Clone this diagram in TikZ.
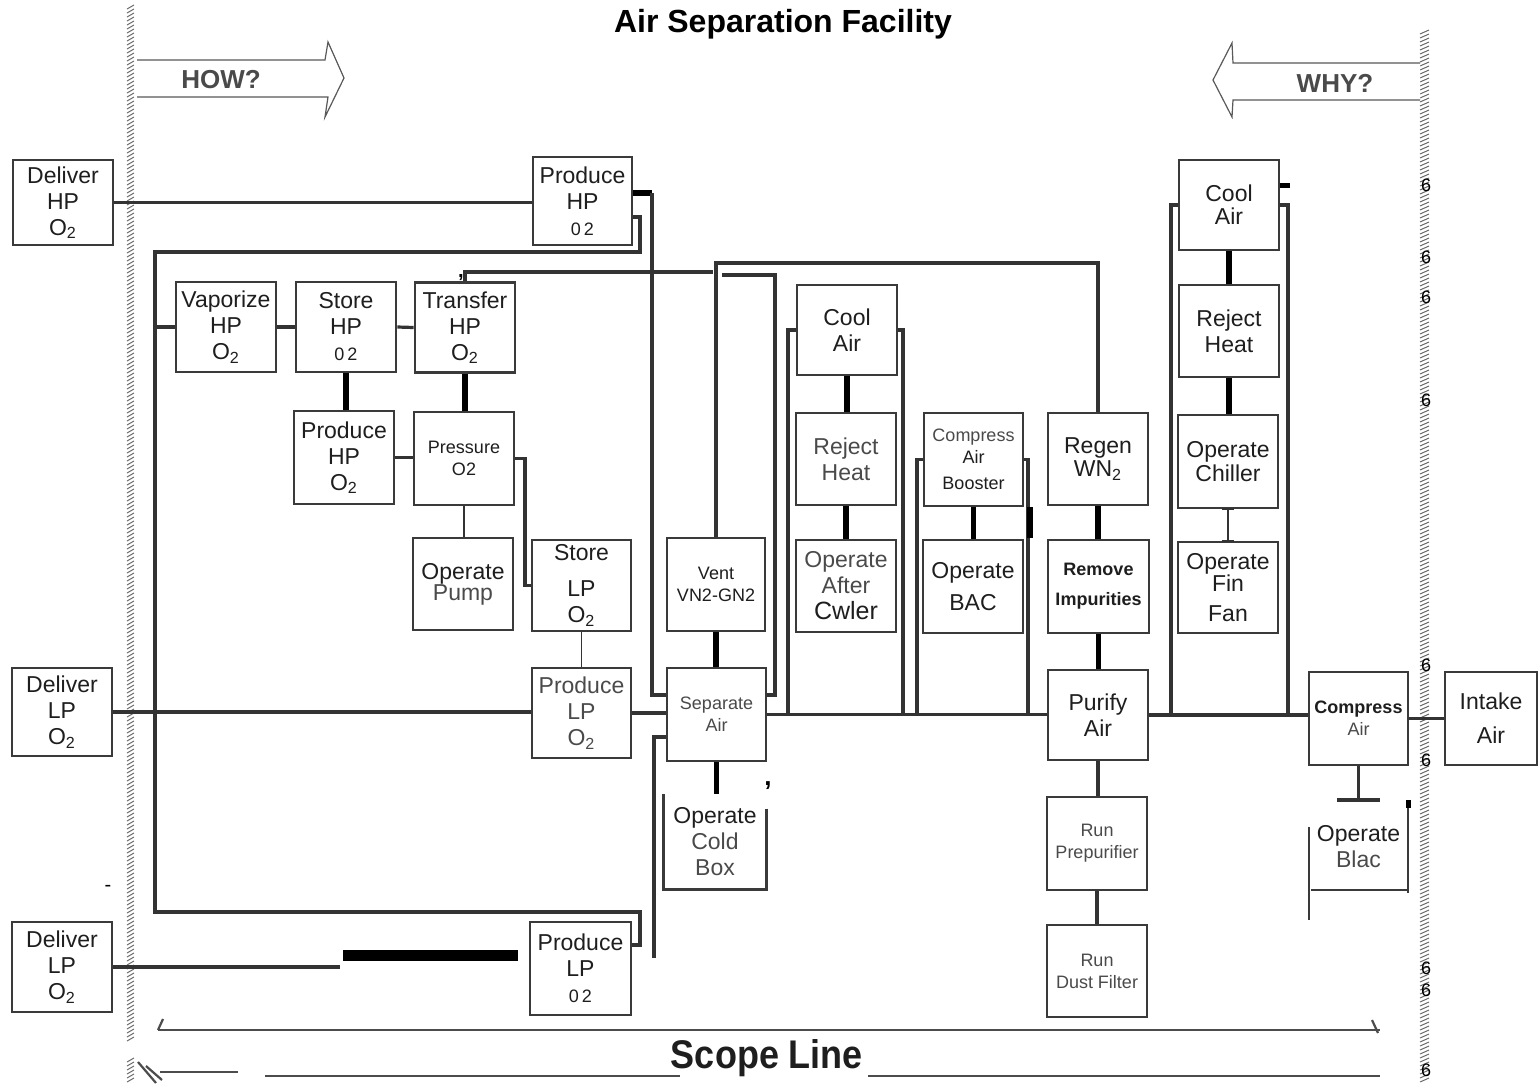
\documentclass[tikz,border=0pt]{standalone}
\usepackage{fontspec}
\setmainfont{Liberation Sans}
\usetikzlibrary{calc}
\definecolor{boxc}{HTML}{3A3A3A}
\definecolor{linec}{HTML}{333333}
\definecolor{txt}{HTML}{1E1E1E}
\definecolor{txtg}{HTML}{4A4A4A}
\definecolor{hatchc}{HTML}{6A6A6A}
\newcommand\Ot{O\textsubscript{2}}
\newcommand\sm{\fontsize{9}{11}\selectfont}
\newcommand\zt{{\fontsize{9}{11}\selectfont 0\,2}}
\begin{document}
\begin{tikzpicture}[x=0.5pt,y=-0.5pt,
 box/.style={draw=boxc, line width=1.3pt, fill=white, align=center, inner sep=1pt, minimum width=50pt, minimum height=45pt, font=\fontsize{11.5}{13}\selectfont, text=txt},
 conn/.style={draw=linec, line width=1.6pt},
 heavy/.style={draw=black, line width=2.6pt},
 lite/.style={draw=linec, line width=0.9pt},
 boxline/.style={draw=boxc, line width=1.3pt},
 hatch/.style={draw=hatchc, line width=0.5pt},
 bigarrow/.style={draw=gray!70!black, line width=0.6pt},
 scopeln/.style={draw=gray!60!black, line width=1.1pt},
]
\fill[white] (0,0) rectangle (1538,1083);
\useasboundingbox (0,0) rectangle (1538,1083);

% scope hatches
\foreach \y in {5,9,...,1037} \draw[hatch] (127,\y+4) -- (134,\y);
\foreach \y in {1058,1062,...,1080} \draw[hatch] (127,\y+4) -- (134,\y);
\foreach \y in {30,34,...,1080} \draw[hatch] (1420,\y+4) -- (1429,\y);

% title
\node[font=\bfseries\fontsize{16}{16}\selectfont] (title) at (783,24) {Air Separation Facility};

% HOW / WHY arrows
\draw[bigarrow, fill=white] (137,60) -- (325,60) -- (328,42) -- (344,78) -- (325,117) -- (328,97) -- (137,97);
\node[font=\bfseries\fontsize{13}{13}\selectfont, text=txtg] (how) at (221,80) {HOW?};
\draw[bigarrow, fill=white] (1420,63) -- (1233,63) -- (1232,43) -- (1213,80) -- (1232,117) -- (1233,100) -- (1420,100);
\node[font=\bfseries\fontsize{13}{13}\selectfont, text=txtg] (why) at (1335,83) {WHY?};

% boxes
\node[box, minimum height=42.5pt] (dhp) at (63,202.5) {Deliver\\HP\\\Ot};
\node[box, minimum height=44pt] (dlp1) at (62,712) {Deliver\\LP\\\Ot};
\node[box] (dlp2) at (62,967) {Deliver\\LP\\\Ot};
\node[box, minimum width=49.5pt, minimum height=44pt] (php1) at (582.5,201) {Produce\\HP\\\zt};
\node[box] (vap) at (226,327) {Vaporize\\HP\\\Ot};
\node[box] (shp) at (346,327) {Store\\HP\\\zt};
\node[box] (thp) at (465,327.5) {Transfer\\HP\\\Ot};
\node[box, minimum height=46.5pt] (php2) at (344,457.5) {Produce\\HP\\\Ot};
\node[box, minimum height=46.5pt, font=\sm] (pre) at (464,458.5) {Pressure\\O2};
\node[box, minimum height=46pt, font=\fontsize{11.5}{10.5}\selectfont] (opp) at (463,584) {Operate\\\textcolor{txtg}{Pump}};
\node[box, minimum width=49.5pt, minimum height=45.5pt] (slp) at (581.5,585.5) {Store\\[5pt]LP\\\Ot};
\node[box, minimum width=49.5pt, text=txtg] (plp1) at (581.5,713) {Produce\\LP\\\Ot};
\node[box, minimum width=50.5pt, minimum height=46.5pt] (plp2) at (580.5,968.5) {Produce\\LP\\\zt};
\node[box, minimum width=49pt, minimum height=46.5pt, font=\sm] (vent) at (716,584.5) {Vent\\VN2-GN2};
\node[box, minimum width=49.5pt, minimum height=46.5pt, font=\sm, text=txtg] (sep) at (716.5,714.5) {Separate\\Air};
\node[box, draw=none, fill=none, minimum height=46.5pt] (ocb) at (715,841.5) {Operate\\\textcolor{txtg}{Cold}\\\textcolor{txtg}{Box}};
\node[box] (ca1) at (847,330) {Cool\\Air};
\node[box, minimum height=46pt, text=txtg] (rh1) at (846,459) {Reject\\Heat};
\node[box, minimum height=46pt] (oac) at (846,586) {\textcolor{txtg}{Operate}\\\textcolor{txtg}{After}\\{\fontsize{12.5}{13}\selectfont Cwler}};
\node[box, minimum width=49.5pt, minimum height=46.5pt, font=\sm] (cab) at (973.5,459.5) {\textcolor{txtg}{Compress}\\Air\\[2pt]Booster};
\node[box, minimum height=46.5pt] (obac) at (973,586.5) {Operate\\[3pt]BAC};
\node[box, minimum height=46pt, font=\fontsize{11.5}{9.5}\selectfont] (rgn) at (1098,459) {Regen\\WN\textsubscript{2}};
\node[box, minimum width=50.5pt, minimum height=46.5pt, font=\sm\bfseries] (rim) at (1098.5,586.5) {Remove\\[4pt]Impurities};
\node[box] (pur) at (1098,715) {Purify\\Air};
\node[box, minimum height=46.5pt, font=\sm, text=txtg] (rpp) at (1097,843.5) {Run\\Prepurifier};
\node[box, minimum height=46pt, font=\sm, text=txtg] (rdf) at (1097,971) {Run\\Dust Filter};
\node[box, font=\fontsize{11.5}{11.5}\selectfont] (ca2) at (1229,205) {Cool\\Air};
\node[box, minimum height=46pt] (rh2) at (1229,331) {Reject\\Heat};
\node[box, minimum height=46.5pt, font=\fontsize{11.5}{10}\selectfont] (och) at (1228,461.5) {Operate\\Chiller};
\node[box, minimum height=45.5pt, font=\fontsize{11.5}{11}\selectfont] (off) at (1228,587.5) {Operate\\Fin\\[4pt]Fan};
\node[box, minimum width=49.5pt, minimum height=46.5pt, font=\sm] (cmp) at (1358.5,718.5) {\textbf{Compress}\\\textcolor{txtg}{Air}};
\node[box, draw=none, fill=none, minimum height=46.5pt] (obl) at (1358.5,846.5) {Operate\\\textcolor{txtg}{Blac}};
\node[box, minimum width=46pt, minimum height=46.5pt] (int) at (1491,718.5) {Intake\\[4pt]Air};

% partial boxes
\draw[boxline] ($(ocb.north east)+(0,15)$) -- (ocb.south east) -- (ocb.south west) -- (ocb.north west);
\draw[boxline] (1309,827) -- (1309,920);
\draw[boxline] (1408,800) -- (1408,893);
\draw[boxline] (1311,890) -- (1408,890);
\fill (1406,800) rectangle (1411,808);

% connectors: main line
\draw[conn] (dlp1.east) -- (dlp1.east -| plp1.west);
\draw[conn] (plp1.east) -- (plp1.east -| sep.west);
\draw[conn] (sep.east) -- (sep.east -| pur.west);
\draw[conn] (pur.east) -- (pur.east -| cmp.west);
\draw[conn] (cmp.east) -- (cmp.east -| int.west);
\draw[conn] (dhp.east) -- (dhp.east -| php1.west);
\coordinate (lb) at (340,967);
\draw[conn] (dlp2.east) -- (lb);
\fill (343,950) rectangle (518,961);

% big AND bracket
\coordinate (b1) at (640,217);
\coordinate (b2) at (640,945);
\draw[conn] (php1.east |- b1) -- (b1) -- (640,252) -- (155,252) -- (155,912) -- (640,912) -- (b2) -- (b2 -| plp2.east);
\coordinate (vl) at (155,327);
\draw[conn] (vl) -- (vap.west);
\draw[conn] (vap.east) -- (shp.west);
\draw[conn] (shp.east) -- (thp.west);
\draw[heavy] (shp.south) -- (shp.south |- php2.north);
\draw[heavy] (thp.south) -- (thp.south |- pre.north);
\draw[conn] (php2.east) -- (php2.east -| pre.west);
\draw[lite] (pre.south) -- (pre.south |- opp.north);
\coordinate (p1) at (525,458.5);
\draw[conn] (pre.east) -- (p1) -- (p1 |- slp.west) -- (slp.west);
\draw[lite] (slp.south) -- (slp.south |- plp1.north);

% upper connectors to separate air
\coordinate (d1) at (713,272);
\draw[conn] (thp.north) -- (thp.north |- d1) -- (d1);
\coordinate (d2) at (716,263);
\draw[conn] (vent.north) -- (d2) -- (d2 -| rgn.north) -- (rgn.north);
\coordinate (e1) at (722,275);
\coordinate (e2) at (775,695);
\draw[conn] (e1) -- (e1 -| e2) -- (e2) -- (e2 -| sep.east);
\coordinate (c1) at (652,193);
\coordinate (c2) at (652,695);
\draw[heavy] (php1.east |- c1) -- (c1);
\draw[conn] (c1) -- (c2) -- (c2 -| sep.west);
\coordinate (c3) at (654,737);
\coordinate (c4) at (654,958);
\draw[conn] (c3 -| sep.west) -- (c3) -- (c4);
\draw[heavy] (vent.south) -- (vent.south |- sep.north);
\draw[heavy] (sep.south) -- (sep.south |- ocb.north);

% cool air (after cooler) bracket
\coordinate (f1) at (788,330);
\coordinate (f2) at (903,330);
\draw[conn] (ca1.west) -- (f1) -- (f1 |- sep.east);
\draw[conn] (ca1.east) -- (f2) -- (f2 |- sep.east);
\draw[heavy] (ca1.south) -- (ca1.south |- rh1.north);
\draw[heavy] (rh1.south) -- (oac.north);

% booster bracket
\coordinate (g1) at (917,459.5);
\coordinate (g2) at (1028,459.5);
\draw[conn] (cab.west) -- (g1) -- (g1 |- sep.east);
\draw[conn] (cab.east) -- (g2) -- (g2 |- sep.east);
\fill (1027,507) rectangle (1033,538);
\draw[heavy] (cab.south) -- (cab.south |- obac.north);

% purify chain
\draw[heavy] (rgn.south) -- (rgn.south |- rim.north);
\draw[heavy] (rim.south) -- (rim.south |- pur.north);
\draw[conn] (pur.south) -- (pur.south |- rpp.north);
\draw[conn] (rpp.south) -- (rdf.north);

% right cool air bracket
\coordinate (h1) at (1171,205);
\coordinate (h2) at (1288,205);
\draw[conn] (ca2.west) -- (h1) -- (h1 |- pur.east);
\draw[conn] (ca2.east) -- (h2) -- (h2 |- pur.east);
\fill (1280,183) rectangle (1290,188);
\draw[heavy] (ca2.south) -- (rh2.north);
\draw[heavy] (rh2.south) -- (rh2.south |- och.north);
\draw[lite] (och.south) -- (off.north);
\draw[lite] ([xshift=-3pt]och.south) -- ([xshift=3pt]och.south);
\draw[lite] ([xshift=-3pt]off.north) -- ([xshift=3pt]off.north);

% compress air to blac
\coordinate (t1) at (1358.5,800);
\draw[conn] (cmp.south) -- (t1);
\draw[conn] (1337,800) -- (1380,800);

% scope line
\draw[scopeln] (158,1030) -- (1380,1030);
\draw[scopeln] (158,1030) -- (163,1019);
\draw[scopeln] (1372,1020) -- (1378,1033);
\draw[scopeln] (160,1072) -- (238,1072);
\draw[scopeln] (265,1076) -- (680,1076);
\draw[scopeln] (868,1076) -- (1380,1076);
\draw[scopeln] (138,1062) -- (156,1083);
\draw[scopeln] (146,1066) -- (162,1080);
\node[font=\bfseries\fontsize{20}{20}\selectfont, text=txt] (scope) at (767,1058) {\scalebox{0.9}[1]{Scope Line}};

% stray marks
\foreach \y in {185,257,297,400,665,760,968,990,1070}
  \node[font=\fontsize{9}{9}\selectfont, inner sep=0pt] (six\y) at (1426,\y) {6};
\node[font=\bfseries\fontsize{13}{13}\selectfont, inner sep=0pt] (cm2) at (768,786) {,};
\node[font=\bfseries\fontsize{10}{10}\selectfont, inner sep=0pt] (cm1) at (461,278) {,};
\node[font=\fontsize{10}{10}\selectfont, inner sep=0pt] (dsh) at (108,888) {-};
\end{tikzpicture}
\end{document}
